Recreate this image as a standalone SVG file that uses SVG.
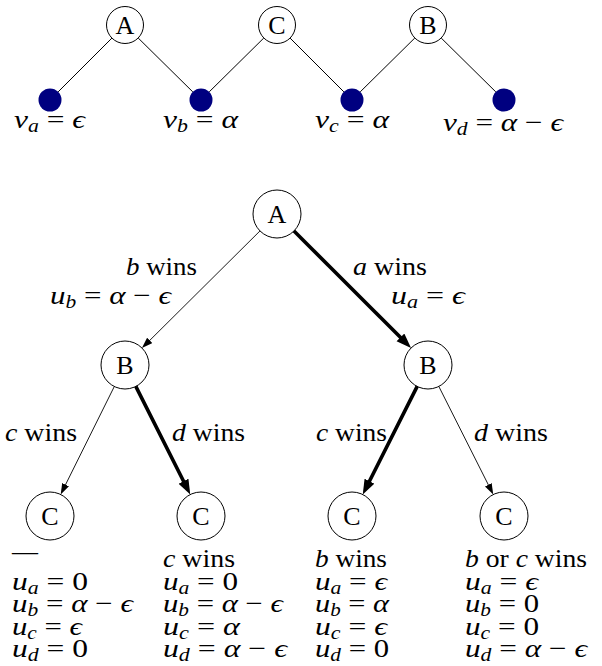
<svg xmlns="http://www.w3.org/2000/svg" width="602" height="666" viewBox="0 0 602 666">
<style>
.t{font-family:"Liberation Serif","Times New Roman","DejaVu Serif",serif;font-size:26px;fill:#000}
.i{font-style:italic}
.s{font-size:18px;font-style:italic}
.nd{fill:#fff;stroke:#000;stroke-width:1}
.dot{fill:#000080}
.ln{stroke:#000;stroke-width:1;fill:none}
.thin{stroke:#000;stroke-width:0.9;fill:none;marker-end:url(#ah)}
.thick{stroke:#000;stroke-width:3.6;fill:none;stroke-linecap:round;marker-end:url(#AH)}
.c{text-anchor:middle}
</style>
<defs>
<marker id="ah" markerUnits="userSpaceOnUse" markerWidth="12" markerHeight="8" refX="6" refY="3.75" orient="auto"><path d="M0,0 L11,3.75 L0,7.5 z" fill="#000"/></marker>
<marker id="AH" markerUnits="userSpaceOnUse" markerWidth="16" markerHeight="12" refX="8" refY="5.5" orient="auto"><path d="M0,0 L15,5.5 L0,11 z" fill="#000"/></marker>
</defs>

<g id="connectors">
<line class="ln" x1="111.9" y1="38.1" x2="58.1" y2="91.9"/>
<line class="ln" x1="138.2" y1="38.0" x2="192.8" y2="91.9"/>
<line class="ln" x1="263.8" y1="38.0" x2="209.2" y2="91.9"/>
<line class="ln" x1="290.1" y1="38.1" x2="343.9" y2="91.9"/>
<line class="ln" x1="414.8" y1="38.0" x2="360.2" y2="91.9"/>
<line class="ln" x1="441.2" y1="38.0" x2="495.8" y2="91.9"/>
<line class="thin" x1="260.0" y1="230.9" x2="145.5" y2="344.6"/>
<line class="thick" x1="294.0" y1="231.0" x2="406.1" y2="343.1"/>
<line class="thin" x1="114.3" y1="386.5" x2="62.9" y2="490.0"/>
<line class="thick" x1="135.8" y1="386.4" x2="187.1" y2="488.3"/>
<line class="thick" x1="417.2" y1="386.4" x2="365.9" y2="488.3"/>
<line class="thin" x1="438.8" y1="386.4" x2="491.0" y2="490.1"/>
</g>

<g id="top-A"><circle class="nd" cx="125" cy="25" r="18.5"/><text class="t c" x="125" y="34">A</text></g>
<g id="top-C"><circle class="nd" cx="277" cy="25" r="18.5"/><text class="t c" x="277" y="34">C</text></g>
<g id="top-B"><circle class="nd" cx="428" cy="25" r="18.5"/><text class="t c" x="428" y="34">B</text></g>

<g id="va"><circle class="dot" cx="50" cy="100" r="11.5"/>
<text class="t" x="14" y="128" textLength="71" lengthAdjust="spacingAndGlyphs"><tspan class="i">v</tspan><tspan class="s" dy="4">a</tspan><tspan dy="-4"> = </tspan><tspan class="i">ϵ</tspan></text></g>
<g id="vb"><circle class="dot" cx="201" cy="100" r="11.5"/>
<text class="t" x="163" y="128" textLength="75" lengthAdjust="spacingAndGlyphs"><tspan class="i">v</tspan><tspan class="s" dy="4">b</tspan><tspan dy="-4"> = </tspan><tspan class="i">α</tspan></text></g>
<g id="vc"><circle class="dot" cx="352" cy="100" r="11.5"/>
<text class="t" x="315" y="128" textLength="74" lengthAdjust="spacingAndGlyphs"><tspan class="i">v</tspan><tspan class="s" dy="4">c</tspan><tspan dy="-4"> = </tspan><tspan class="i">α</tspan></text></g>
<g id="vd"><circle class="dot" cx="504" cy="100" r="11.5"/>
<text class="t" x="443" y="131" textLength="120" lengthAdjust="spacingAndGlyphs"><tspan class="i">v</tspan><tspan class="s" dy="4">d</tspan><tspan dy="-4"> = </tspan><tspan class="i">α</tspan> − <tspan class="i">ϵ</tspan></text></g>

<g id="A"><circle class="nd" cx="277" cy="214" r="24"/><text class="t c" x="277" y="223">A</text></g>
<g id="B1"><circle class="nd" cx="125" cy="365" r="24"/><text class="t c" x="125" y="374">B</text></g>
<g id="B2"><circle class="nd" cx="428" cy="365" r="24"/><text class="t c" x="428" y="374">B</text></g>
<g id="C1"><circle class="nd" cx="50" cy="516" r="24"/><text class="t c" x="50" y="525">C</text></g>
<g id="C2"><circle class="nd" cx="201" cy="516" r="24"/><text class="t c" x="201" y="525">C</text></g>
<g id="C3"><circle class="nd" cx="352" cy="516" r="24"/><text class="t c" x="352" y="525">C</text></g>
<g id="C4"><circle class="nd" cx="504" cy="516" r="24"/><text class="t c" x="504" y="525">C</text></g>

<g id="edge-labels">
<text class="t" x="126" y="275" textLength="71" lengthAdjust="spacingAndGlyphs"><tspan class="i">b</tspan> wins</text>
<text class="t" x="50" y="304" textLength="121" lengthAdjust="spacingAndGlyphs"><tspan class="i">u</tspan><tspan class="s" dy="4">b</tspan><tspan dy="-4"> = </tspan><tspan class="i">α</tspan> − <tspan class="i">ϵ</tspan></text>
<text class="t" x="353" y="275" textLength="74" lengthAdjust="spacingAndGlyphs"><tspan class="i">a</tspan> wins</text>
<text class="t" x="391" y="304" textLength="74" lengthAdjust="spacingAndGlyphs"><tspan class="i">u</tspan><tspan class="s" dy="4">a</tspan><tspan dy="-4"> = </tspan><tspan class="i">ϵ</tspan></text>
<text class="t" x="5" y="441" textLength="72" lengthAdjust="spacingAndGlyphs"><tspan class="i">c</tspan> wins</text>
<text class="t" x="172" y="441" textLength="73" lengthAdjust="spacingAndGlyphs"><tspan class="i">d</tspan> wins</text>
<text class="t" x="316" y="441" textLength="71" lengthAdjust="spacingAndGlyphs"><tspan class="i">c</tspan> wins</text>
<text class="t" x="474" y="441" textLength="74" lengthAdjust="spacingAndGlyphs"><tspan class="i">d</tspan> wins</text>
</g>

<g id="outcome1">
<text class="t" x="12" y="560">—</text>
<text class="t" x="12" y="590" textLength="76" lengthAdjust="spacingAndGlyphs"><tspan class="i">u</tspan><tspan class="s" dy="4">a</tspan><tspan dy="-4"> = 0</tspan></text>
<text class="t" x="12" y="612" textLength="121" lengthAdjust="spacingAndGlyphs"><tspan class="i">u</tspan><tspan class="s" dy="4">b</tspan><tspan dy="-4"> = </tspan><tspan class="i">α</tspan> − <tspan class="i">ϵ</tspan></text>
<text class="t" x="12" y="635" textLength="70" lengthAdjust="spacingAndGlyphs"><tspan class="i">u</tspan><tspan class="s" dy="4">c</tspan><tspan dy="-4"> = </tspan><tspan class="i">ϵ</tspan></text>
<text class="t" x="12" y="657" textLength="76" lengthAdjust="spacingAndGlyphs"><tspan class="i">u</tspan><tspan class="s" dy="4">d</tspan><tspan dy="-4"> = 0</tspan></text>
</g>
<g id="outcome2">
<text class="t" x="163" y="567" textLength="72" lengthAdjust="spacingAndGlyphs"><tspan class="i">c</tspan> wins</text>
<text class="t" x="163" y="590" textLength="75" lengthAdjust="spacingAndGlyphs"><tspan class="i">u</tspan><tspan class="s" dy="4">a</tspan><tspan dy="-4"> = 0</tspan></text>
<text class="t" x="163" y="612" textLength="120" lengthAdjust="spacingAndGlyphs"><tspan class="i">u</tspan><tspan class="s" dy="4">b</tspan><tspan dy="-4"> = </tspan><tspan class="i">α</tspan> − <tspan class="i">ϵ</tspan></text>
<text class="t" x="163" y="635" textLength="77" lengthAdjust="spacingAndGlyphs"><tspan class="i">u</tspan><tspan class="s" dy="4">c</tspan><tspan dy="-4"> = </tspan><tspan class="i">α</tspan></text>
<text class="t" x="163" y="657" textLength="124" lengthAdjust="spacingAndGlyphs"><tspan class="i">u</tspan><tspan class="s" dy="4">d</tspan><tspan dy="-4"> = </tspan><tspan class="i">α</tspan> − <tspan class="i">ϵ</tspan></text>
</g>
<g id="outcome3">
<text class="t" x="315" y="567" textLength="72" lengthAdjust="spacingAndGlyphs"><tspan class="i">b</tspan> wins</text>
<text class="t" x="315" y="590" textLength="72" lengthAdjust="spacingAndGlyphs"><tspan class="i">u</tspan><tspan class="s" dy="4">a</tspan><tspan dy="-4"> = </tspan><tspan class="i">ϵ</tspan></text>
<text class="t" x="315" y="612" textLength="74" lengthAdjust="spacingAndGlyphs"><tspan class="i">u</tspan><tspan class="s" dy="4">b</tspan><tspan dy="-4"> = </tspan><tspan class="i">α</tspan></text>
<text class="t" x="315" y="635" textLength="72" lengthAdjust="spacingAndGlyphs"><tspan class="i">u</tspan><tspan class="s" dy="4">c</tspan><tspan dy="-4"> = </tspan><tspan class="i">ϵ</tspan></text>
<text class="t" x="315" y="657" textLength="74" lengthAdjust="spacingAndGlyphs"><tspan class="i">u</tspan><tspan class="s" dy="4">d</tspan><tspan dy="-4"> = 0</tspan></text>
</g>
<g id="outcome4">
<text class="t" x="465" y="567" textLength="122" lengthAdjust="spacingAndGlyphs"><tspan class="i">b</tspan> or <tspan class="i">c</tspan> wins</text>
<text class="t" x="465" y="590" textLength="73" lengthAdjust="spacingAndGlyphs"><tspan class="i">u</tspan><tspan class="s" dy="4">a</tspan><tspan dy="-4"> = </tspan><tspan class="i">ϵ</tspan></text>
<text class="t" x="465" y="612" textLength="74" lengthAdjust="spacingAndGlyphs"><tspan class="i">u</tspan><tspan class="s" dy="4">b</tspan><tspan dy="-4"> = 0</tspan></text>
<text class="t" x="465" y="635" textLength="74" lengthAdjust="spacingAndGlyphs"><tspan class="i">u</tspan><tspan class="s" dy="4">c</tspan><tspan dy="-4"> = 0</tspan></text>
<text class="t" x="465" y="657" textLength="122" lengthAdjust="spacingAndGlyphs"><tspan class="i">u</tspan><tspan class="s" dy="4">d</tspan><tspan dy="-4"> = </tspan><tspan class="i">α</tspan> − <tspan class="i">ϵ</tspan></text>
</g>
</svg>
